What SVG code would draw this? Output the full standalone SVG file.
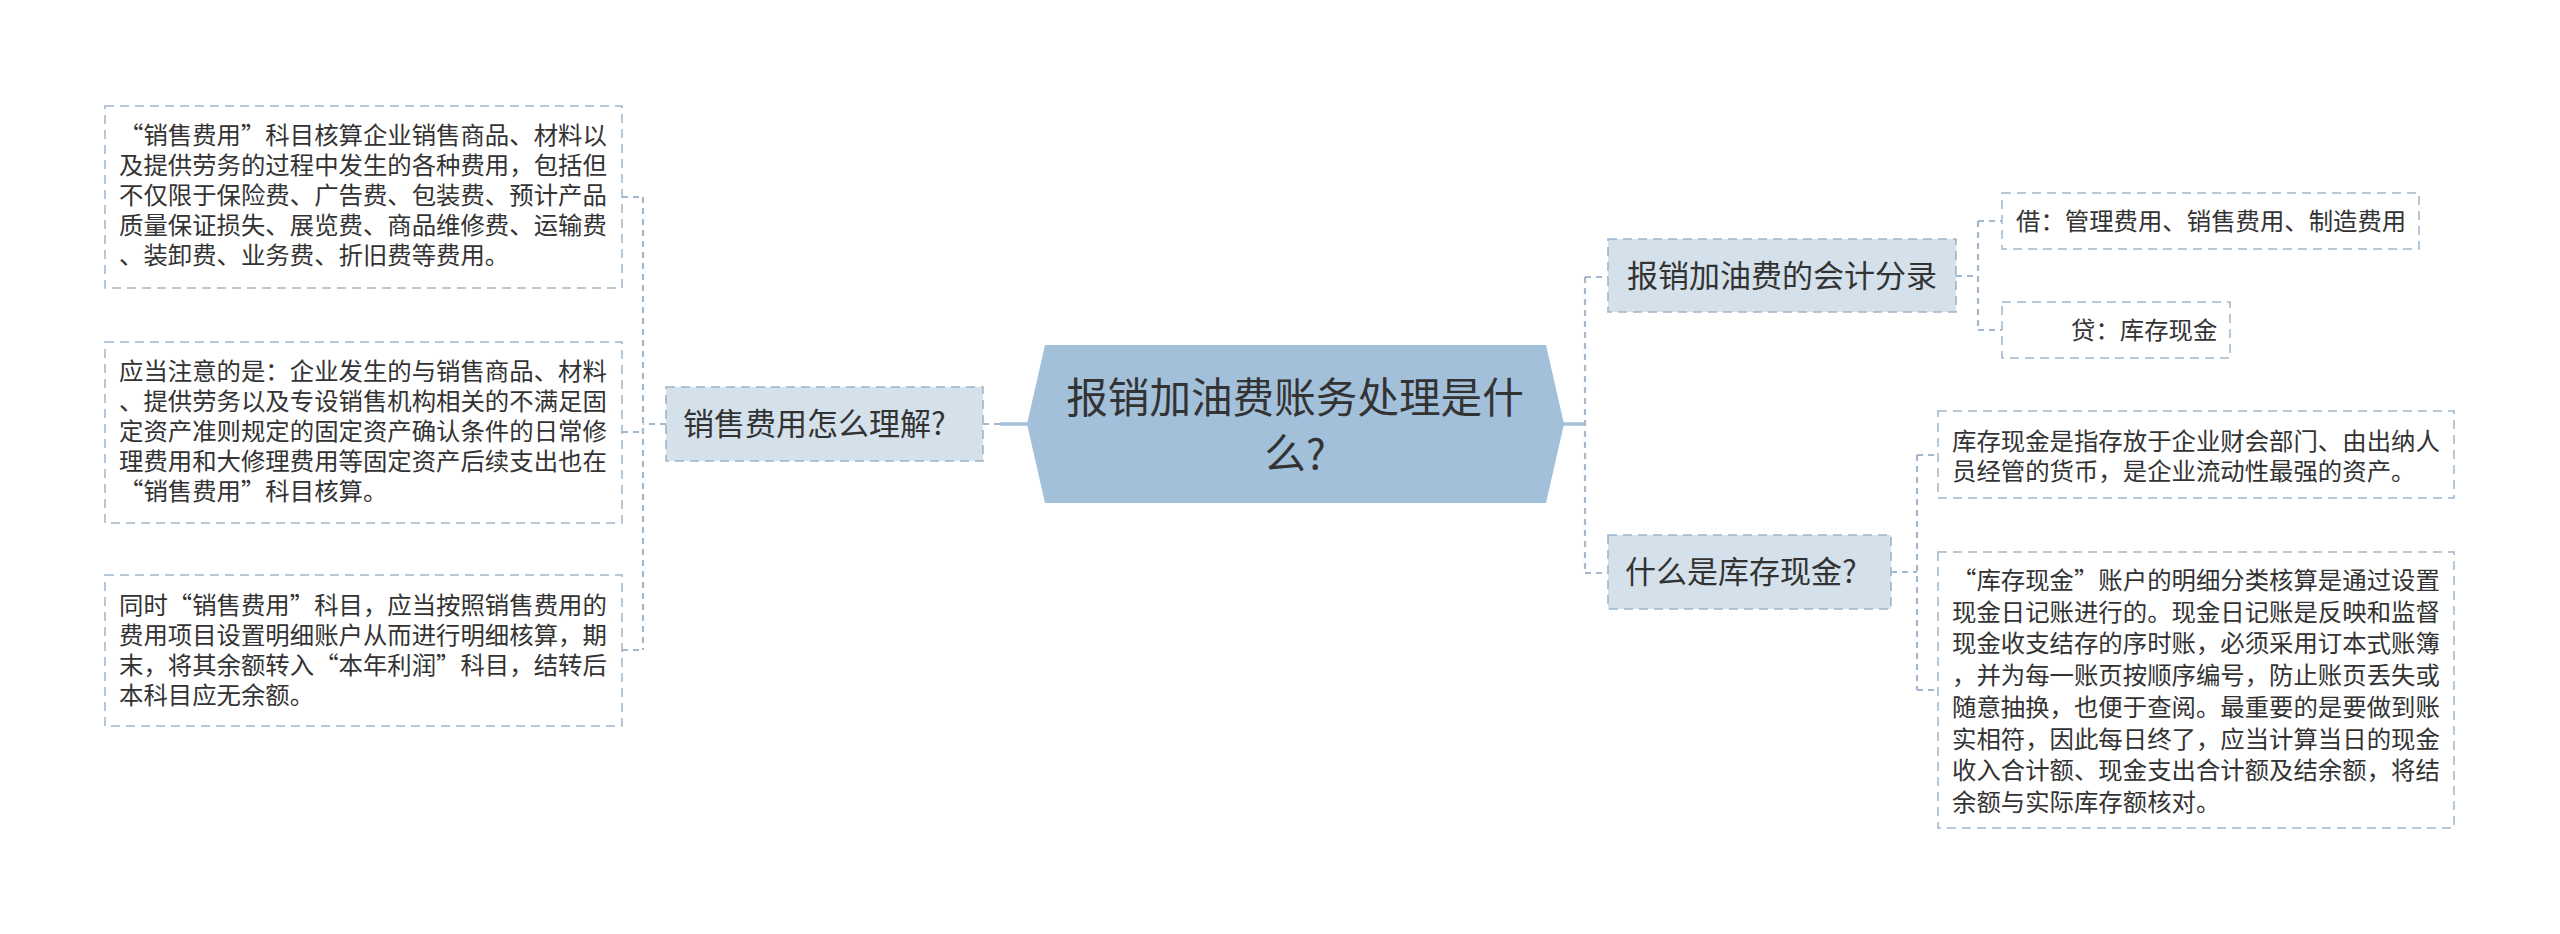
<svg xmlns="http://www.w3.org/2000/svg" width="2560" height="934" viewBox="0 0 2560 934">
<style>
.bg{fill:#ffffff}
.leaf{fill:#ffffff;stroke:#a3b8cc;stroke-width:1.6;stroke-dasharray:9 6}
.sub{fill:#d4e1eb;stroke:#9fb5ca;stroke-width:1.6;stroke-dasharray:9 6}
.root{fill:#a3c0da}
.t{font-family:"Noto Sans CJK SC","Noto Sans",sans-serif;fill:#333333}
.s24{font-size:24.4px}
.s31{font-size:31px}
.s42{font-size:41.6px}
.dash{fill:none;stroke:#a3b8cc;stroke-width:2.2;stroke-dasharray:6 5}
.solid{fill:none;stroke:#a3c0da;stroke-width:3.5}
</style>
<rect class="bg" x="0" y="0" width="2560" height="934"/>
<g id="connectors">
  <path class="solid" d="M1000,424 H1029"/>
  <path class="dash" d="M983,424 H1000"/>
  <path class="dash" d="M666,424 H643 M643,197 V650 M622,197 H643 M622,432 H643 M622,650 H643"/>
  <path class="solid" d="M1563,424 H1585"/>
  <path class="dash" d="M1585,277 V573 M1585,277 H1608 M1585,573 H1608"/>
  <path class="dash" d="M1956,276 H1978 M1978,221 V330 M1978,221 H2002 M1978,330 H2002"/>
  <path class="dash" d="M1891,572 H1917 M1917,455 V690 M1917,455 H1938 M1917,690 H1938"/>
</g>
<g id="root">
  <polygon class="root" points="1045,345 1546,345 1564,424 1546,503 1045,503 1027,424"/>
  <text class="t s42" x="1295" y="413" text-anchor="middle">报销加油费账务处理是什</text>
  <text class="t s42" x="1295" y="469" text-anchor="middle">么?</text>
</g>
<g id="n-xiaoshou">
  <rect class="sub" x="666" y="387" width="317" height="74"/>
  <text class="t s31" x="683" y="435">销售费用怎么理解?</text>
</g>
<g id="n-leaf1">
  <rect class="leaf" x="105" y="106" width="517" height="182"/>
  <text class="t s24" x="119"><tspan x="119" y="143.5">“销售费用”科目核算企业销售商品、材料以</tspan><tspan x="119" y="173.5">及提供劳务的过程中发生的各种费用，包括但</tspan><tspan x="119" y="204">不仅限于保险费、广告费、包装费、预计产品</tspan><tspan x="119" y="234">质量保证损失、展览费、商品维修费、运输费</tspan><tspan x="119" y="264">、装卸费、业务费、折旧费等费用。</tspan></text>
</g>
<g id="n-leaf2">
  <rect class="leaf" x="105" y="342" width="517" height="181"/>
  <text class="t s24" x="119"><tspan x="119" y="380">应当注意的是：企业发生的与销售商品、材料</tspan><tspan x="119" y="410">、提供劳务以及专设销售机构相关的不满足固</tspan><tspan x="119" y="440">定资产准则规定的固定资产确认条件的日常修</tspan><tspan x="119" y="470">理费用和大修理费用等固定资产后续支出也在</tspan><tspan x="119" y="500">“销售费用”科目核算。</tspan></text>
</g>
<g id="n-leaf3">
  <rect class="leaf" x="105" y="575" width="517" height="151"/>
  <text class="t s24" x="119"><tspan x="119" y="614">同时“销售费用”科目，应当按照销售费用的</tspan><tspan x="119" y="644">费用项目设置明细账户从而进行明细核算，期</tspan><tspan x="119" y="674">末，将其余额转入“本年利润”科目，结转后</tspan><tspan x="119" y="704">本科目应无余额。</tspan></text>
</g>
<g id="n-fenlu">
  <rect class="sub" x="1608" y="239" width="348" height="73"/>
  <text class="t s31" x="1627" y="287">报销加油费的会计分录</text>
</g>
<g id="n-jie">
  <rect class="leaf" x="2002" y="193" width="417" height="56"/>
  <text class="t s24" x="2016" y="230">借：管理费用、销售费用、制造费用</text>
</g>
<g id="n-dai">
  <rect class="leaf" x="2002" y="302" width="228" height="56"/>
  <text class="t s24" x="2071" y="339">贷：库存现金</text>
</g>
<g id="n-xianjin">
  <rect class="sub" x="1608" y="535" width="283" height="74"/>
  <text class="t s31" x="1625" y="583">什么是库存现金?</text>
</g>
<g id="n-def">
  <rect class="leaf" x="1938" y="411" width="516" height="87"/>
  <text class="t s24" x="1952"><tspan x="1952" y="450">库存现金是指存放于企业财会部门、由出纳人</tspan><tspan x="1952" y="480">员经管的货币，是企业流动性最强的资产。</tspan></text>
</g>
<g id="n-detail">
  <rect class="leaf" x="1938" y="552" width="516" height="276"/>
  <text class="t s24" x="1952"><tspan x="1952" y="589">“库存现金”账户的明细分类核算是通过设置</tspan><tspan x="1952" y="620.7">现金日记账进行的。现金日记账是反映和监督</tspan><tspan x="1952" y="652.4">现金收支结存的序时账，必须采用订本式账簿</tspan><tspan x="1952" y="684.1">，并为每一账页按顺序编号，防止账页丢失或</tspan><tspan x="1952" y="715.9">随意抽换，也便于查阅。最重要的是要做到账</tspan><tspan x="1952" y="747.6">实相符，因此每日终了，应当计算当日的现金</tspan><tspan x="1952" y="779.3">收入合计额、现金支出合计额及结余额，将结</tspan><tspan x="1952" y="811">余额与实际库存额核对。</tspan></text>
</g>
</svg>
